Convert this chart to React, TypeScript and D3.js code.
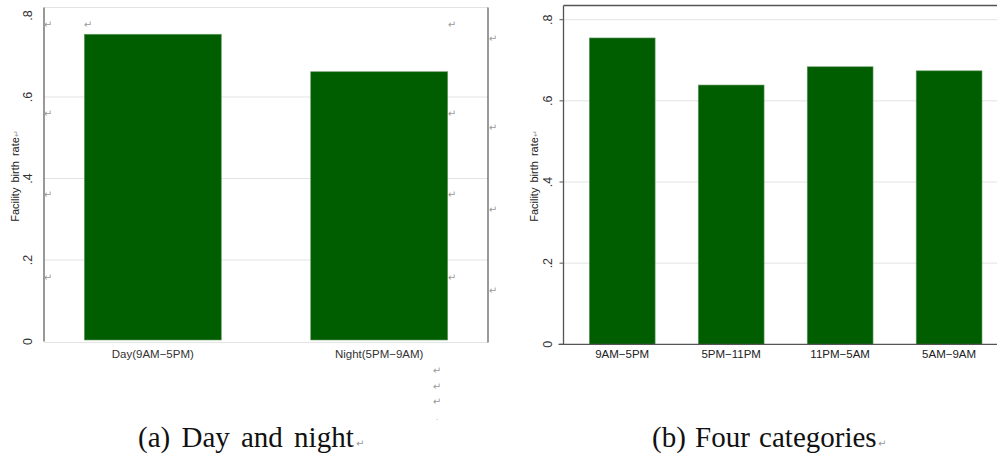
import React from "react";
import * as d3 from "d3";

const catsA = ["Day(9AM\u22125PM)", "Night(5PM\u22129AM)"];
const valsA = [0.754, 0.662];
const catsB = ["9AM\u22125PM", "5PM\u221211PM", "11PM\u22125AM", "5AM\u22129AM"];
const valsB = [0.755, 0.639, 0.684, 0.674];
const yTicks = [0, 0.2, 0.4, 0.6, 0.8];
const tickLabels = ["0", ".2", ".4", ".6", ".8"];
const yTitle = "Facility birth rate";
const captionA = "(a) Day and night";
const captionB = "(b) Four categories";
const RET = "\u21b5";

const GREEN = "#005e00";
const GRID = "#e3e3e3";
const AXIS = "#555";
const SANS = "Liberation Sans, Arial, sans-serif";
const SERIF = "Liberation Serif, Times New Roman, serif";

// paragraph marks (Word artefacts) positions
const retMarksA: [number, number][] = [
  [48, 28], [88, 28], [452, 28], [493, 42], [48, 117], [452, 117], [493, 131],
  [48, 198], [452, 198], [493, 213], [48, 281], [452, 281], [493, 294],
  [437, 374], [437, 390], [437, 405],
];

export default function App() {
  // Panel A scales
  const yA = d3.scaleLinear().domain([0, 0.8]).range([341.5, 15.5]);
  const xA = d3.scaleBand<string>().domain(catsA).range([84.3, 447.7]).paddingInner(0.395).paddingOuter(0);
  // Panel B scales
  const yB = d3.scaleLinear().domain([0, 0.8]).range([344.3, 19.7]);
  const xB = d3.scaleBand<string>().domain(catsB).range([589.3, 982]).paddingInner(0.396).paddingOuter(0);

  const axA = 44, rightA = 488, topA = 7.5, botA = 342.5;
  const axB = 563.5, rightB = 997, topB = 5.5;

  return (
    <svg width={997} height={456} style={{ position: "absolute", left: 0, top: 0, background: "#fff" }}>
      <rect x={0} y={0} width={997} height={456} fill="#fff" />
      {/* ===== Panel A ===== */}
      {yTicks.slice(1, 4).map((t) => (
        <line key={"ga" + t} x1={axA} x2={rightA} y1={yA(t)} y2={yA(t)} stroke={GRID} strokeWidth={1} />
      ))}
      <line x1={axA} x2={rightA} y1={topA} y2={topA} stroke={GRID} strokeWidth={1} />
      <line x1={axA} x2={rightA} y1={botA} y2={botA} stroke={GRID} strokeWidth={1} />
      {catsA.map((c, i) => (
        <rect key={c} x={xA(c)} y={yA(valsA[i])} width={xA.bandwidth()} height={yA(0) - 1.5 - yA(valsA[i])} fill={GREEN} stroke="#6a9a6a" strokeWidth={0.6} />
      ))}
      <line x1={axA} x2={axA} y1={topA} y2={botA - 1} stroke={AXIS} strokeWidth={1.2} />
      <line x1={rightA} x2={rightA} y1={topA} y2={botA} stroke={AXIS} strokeWidth={1.2} />
      {yTicks.map((t, i) => (
        <g key={"ta" + t} transform={`translate(${axA - 10},${yA(t)}) rotate(-90)`}>
          <text textAnchor="middle" dy={-2} fontFamily={SANS} fontSize={12.5} fill="#333">{tickLabels[i]}</text>
        </g>
      ))}
      <g transform={`translate(19,176) rotate(-90)`}>
        <text textAnchor="middle" fontFamily={SANS} fontSize={11} wordSpacing={2} fill="#222">{yTitle}<tspan fill="#999" fontSize={8}>{RET}</tspan></text>
      </g>
      {catsA.map((c) => (
        <text key={"la" + c} x={(xA(c) as number) + xA.bandwidth() / 2} y={358} textAnchor="middle" fontFamily={SANS} fontSize={11.5} fill="#333">{c}</text>
      ))}
      {retMarksA.map(([x, y], i) => (
        <text key={"r" + i} x={x} y={y} textAnchor="middle" fontFamily="DejaVu Sans" fontSize={10} fill="#9a9a9a">{RET}</text>
      ))}
      <text x={437} y={420} textAnchor="middle" fontFamily="DejaVu Sans" fontSize={7} fill="#9a9a9a">.</text>
      <text x={138} y={447} fontFamily={SERIF} fontSize={29} wordSpacing={4} fill="#111">{captionA}</text>
      <text x={356} y={447} fontFamily="DejaVu Sans" fontSize={10} fill="#999">{RET}</text>

      {/* ===== Panel B ===== */}
      {yTicks.slice(1).map((t) => (
        <line key={"gb" + t} x1={axB} x2={rightB} y1={yB(t)} y2={yB(t)} stroke={GRID} strokeWidth={1} />
      ))}
      {catsB.map((c, i) => (
        <rect key={c} x={xB(c)} y={yB(valsB[i])} width={xB.bandwidth()} height={yB(0) - yB(valsB[i])} fill={GREEN} stroke="#6a9a6a" strokeWidth={0.6} />
      ))}
      <line x1={axB} x2={rightB} y1={topB} y2={topB} stroke={AXIS} strokeWidth={1.3} />
      <line x1={axB} x2={axB} y1={topB} y2={yB(0)} stroke={AXIS} strokeWidth={1.3} />
      <line x1={axB - 5} x2={rightB} y1={yB(0)} y2={yB(0)} stroke={AXIS} strokeWidth={1.3} />
      {yTicks.map((t, i) => (
        <g key={"tb" + t}>
          <line x1={axB - 4} x2={axB} y1={yB(t)} y2={yB(t)} stroke={AXIS} strokeWidth={1} />
          <g transform={`translate(${axB - 11},${yB(t)}) rotate(-90)`}>
            <text textAnchor="middle" dy={-1} fontFamily={SANS} fontSize={12.5} fill="#333">{tickLabels[i]}</text>
          </g>
        </g>
      ))}
      <g transform={`translate(538,176) rotate(-90)`}>
        <text textAnchor="middle" fontFamily={SANS} fontSize={11} wordSpacing={2} fill="#222">{yTitle}<tspan fill="#999" fontSize={8}>{RET}</tspan></text>
      </g>
      {catsB.map((c) => (
        <text key={"lb" + c} x={(xB(c) as number) + xB.bandwidth() / 2} y={358} textAnchor="middle" fontFamily={SANS} fontSize={11.5} fill="#222">{c}</text>
      ))}
      <text x={652} y={447} fontFamily={SERIF} fontSize={29} wordSpacing={2} fill="#111">{captionB}</text>
      <text x={878} y={447} fontFamily="DejaVu Sans" fontSize={10} fill="#999">{RET}</text>
    </svg>
  );
}
